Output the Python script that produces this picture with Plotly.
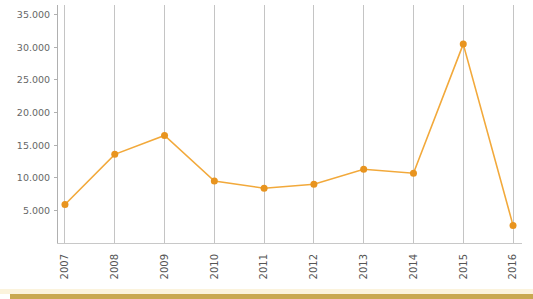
import plotly.graph_objects as go

years = ["2007", "2008", "2009", "2010", "2011", "2012", "2013", "2014", "2015", "2016"]
values = [5900, 13600, 16500, 9500, 8400, 9000, 11300, 10700, 30500, 2700]
y_ticks = [5000, 10000, 15000, 20000, 25000, 30000, 35000]

fig = go.Figure()
fig.add_trace(go.Scatter(
    x=years, y=values, mode="lines+markers",
    line=dict(color="#f2a93b", width=1.6),
    marker=dict(color="#e8941f", size=7),
    hoverinfo="skip",
))

H = 238.0
fig.update_layout(
    width=533, height=299,
    margin=dict(l=58, r=11, t=5, b=56),
    paper_bgcolor="white", plot_bgcolor="white",
    showlegend=False,
    separators=",.",
    font=dict(family="DejaVu Sans, sans-serif", size=9, color="#666"),
    xaxis=dict(
        type="category", range=[-0.14, 9.18],
        showgrid=True, gridcolor="#c4c4c4", gridwidth=1,
        tickangle=-90, tickfont=dict(size=10, color="#555"),
        ticklabelstandoff=6,
        showline=True, linecolor="#c8c8c8", zeroline=False,
        ticks="", fixedrange=True,
    ),
    yaxis=dict(
        range=[0, 36500], tickvals=y_ticks, tickformat=",d",
        showgrid=False, zeroline=False,
        showline=True, linecolor="#b0b0b0", linewidth=1,
        ticks="outside", ticklen=3, tickcolor="#b0b0b0",
        tickfont=dict(size=9.5, color="#666"),
        ticklabelstandoff=2,
    ),
    shapes=[
        dict(type="rect", xref="paper", yref="paper", layer="below",
             x0=-58/464, x1=1 + 11/464, y0=-46/H, y1=-51/H,
             fillcolor="#fbf3dc", line=dict(width=0)),
        dict(type="rect", xref="paper", yref="paper", layer="above",
             x0=-48/464, x1=1 + 11/464, y0=-51/H, y1=-56/H,
             fillcolor="#c9a850", line=dict(width=0)),
    ],
)

fig.write_html("out.html", config={"displayModeBar": False},
               post_script="document.body.style.margin='0';")
